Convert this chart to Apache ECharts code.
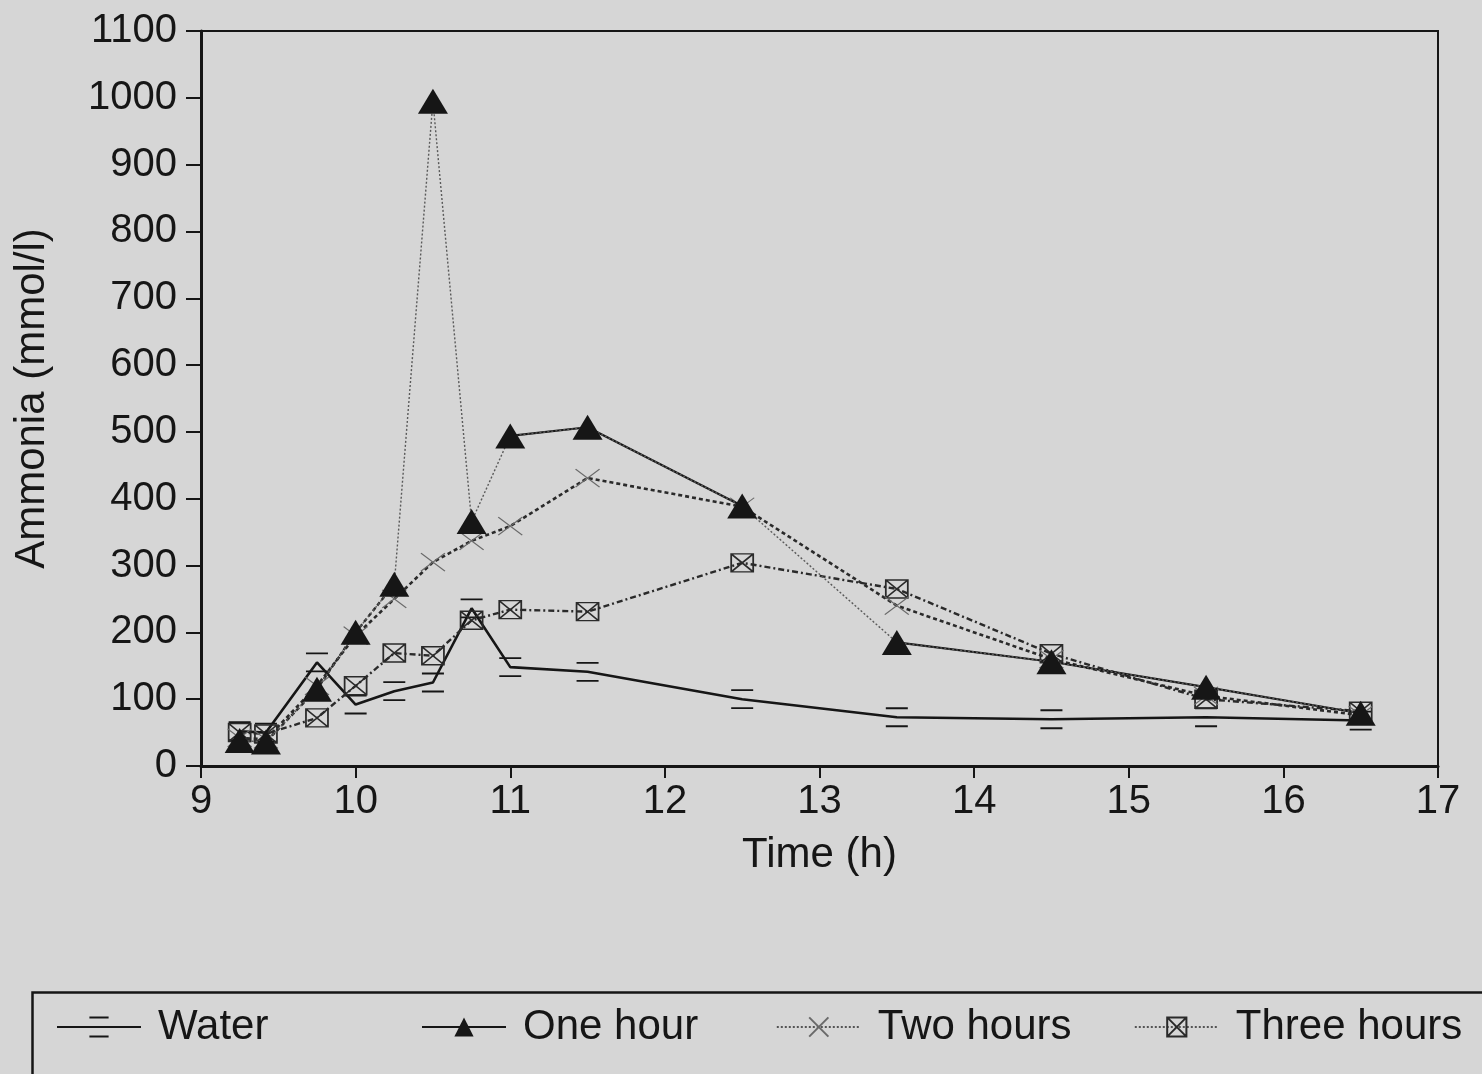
<!DOCTYPE html>
<html>
<head>
<meta charset="utf-8">
<title>Ammonia over time</title>
<script src="https://cdn.jsdelivr.net/npm/echarts@6/dist/echarts.min.js"></script>
<style>
  html, body { margin: 0; padding: 0; background: #d6d6d6; }
  #chart { width: 1482px; height: 1074px; }
</style>
</head>
<body>
<div id="chart"></div>
<script>
// Sampling times (h) and ammonia readings (mmol/l) per group
const times      = [9.25, 9.42, 9.75, 10, 10.25, 10.5, 10.75, 11, 11.5, 12.5, 13.5, 14.5, 15.5, 16.5];
const water      = [52, 50, 155, 92, 112, 125, 236, 148, 141, 100, 73, 70, 73, 68];
const oneHour    = [38, 36, 115, 200, 272, 995, 366, 494, 507, 389, 185, 156, 118, 79];
const twoHours   = [42, 40, 120, 195, 250, 305, 337, 359, 431, 388, 240, 160, 105, 76];
const threeHours = [50, 48, 72, 120, 169, 165, 218, 234, 231, 304, 265, 168, 100, 82];

const seriesNames = ['Water', 'One hour', 'Two hours', 'Three hours'];
const xTicks = [9, 10, 11, 12, 13, 14, 15, 16, 17];
const yTicks = [0, 100, 200, 300, 400, 500, 600, 700, 800, 900, 1000, 1100];

// Stretches of the "One hour" trace that the plotter drew as heavy strokes
const oneHourSolidRuns  = [[7, 9], [10, 13]];
const oneHourDashedRuns = [[0, 4]];

const FONT = "'Liberation Sans', Arial, Helvetica, sans-serif";
const INK = '#161616';

const pairs = ys => times.map((t, i) => [t, ys[i]]);
const run = (ys, a, b) => times.slice(a, b + 1).map((t, k) => [t, ys[a + k]]);

// Marker outlines
const SYM_CAPS   = 'path://M0,0H20M0,18H20';
const SYM_CROSS  = 'path://M0,0L24,18M24,0L0,18';
const SYM_HGLASS = 'path://M0,0H22V18H0ZM0,0L22,18M22,0L0,18';

const series = [
  {
    name: 'Water', type: 'line', data: pairs(water),
    symbol: SYM_CAPS, symbolSize: [22, 18],
    itemStyle: { color: 'rgba(0,0,0,0)', borderColor: INK, borderWidth: 2 },
    lineStyle: { color: INK, width: 2.6, type: 'solid' },
    z: 3
  },
  {
    name: 'Three hours', type: 'line', data: pairs(threeHours),
    symbol: SYM_HGLASS, symbolSize: [22, 18],
    itemStyle: { color: 'rgba(0,0,0,0)', borderColor: '#2a2a2a', borderWidth: 1.6 },
    lineStyle: { color: '#2a2a2a', width: 2.4, type: [6, 3, 2, 3] },
    z: 4
  },
  {
    name: 'Two hours', type: 'line', data: pairs(twoHours),
    symbol: SYM_CROSS, symbolSize: [24, 18],
    itemStyle: { color: 'rgba(0,0,0,0)', borderColor: '#6a6a6a', borderWidth: 1.2 },
    lineStyle: { color: '#2a2a2a', width: 2.6, type: [4, 3] },
    z: 5
  }
];

oneHourDashedRuns.forEach(([a, b]) => series.push({
  type: 'line', data: run(oneHour, a, b), symbol: 'none', silent: true,
  lineStyle: { color: '#2a2a2a', width: 2.4, type: [4, 3] }, z: 6
}));
oneHourSolidRuns.forEach(([a, b]) => series.push({
  type: 'line', data: run(oneHour, a, b), symbol: 'none', silent: true,
  lineStyle: { color: INK, width: 2.2, type: 'solid' }, z: 6
}));
series.push({
  name: 'One hour', type: 'line', data: pairs(oneHour),
  symbol: 'triangle', symbolSize: [30, 25],
  itemStyle: { color: INK, borderWidth: 0 },
  lineStyle: { color: '#5a5a5a', width: 1.4, type: [2, 2] },
  z: 7
});

const legendLeft = [51, 416, 771, 1129];
const legends = seriesNames.map((n, i) => {
  const lg = {
    data: [n], left: legendLeft[i], top: 1001, orient: 'horizontal',
    itemWidth: 84, itemHeight: 24, selectedMode: false,
    textStyle: { fontFamily: FONT, fontSize: 42, color: INK, padding: [0, 0, 0, 12] }
  };
  if (n === 'One hour') lg.lineStyle = { type: 'solid', width: 2, color: INK };
  if (n === 'Two hours') lg.lineStyle = { type: [2, 2], width: 1.6, color: '#2a2a2a' };
  if (n === 'Three hours') lg.lineStyle = { type: [2, 2], width: 1.6, color: '#2a2a2a' };
  return lg;
});

const chart = echarts.init(document.getElementById('chart'), null, { renderer: 'canvas' });
chart.setOption({
  animation: false,
  backgroundColor: 'transparent',
  textStyle: { fontFamily: FONT, color: INK },
  grid: { left: 201, right: 44, top: 31, bottom: 308, show: true, borderColor: INK, borderWidth: 2, backgroundColor: 'transparent' },
  xAxis: {
    type: 'value', min: xTicks[0], max: xTicks[xTicks.length - 1], interval: xTicks[1] - xTicks[0],
    name: 'Time (h)', nameLocation: 'middle', nameGap: 68,
    nameTextStyle: { fontFamily: FONT, fontSize: 42, color: INK },
    axisLine: { lineStyle: { color: INK, width: 3 } },
    axisTick: { inside: false, length: 12, lineStyle: { color: INK, width: 2 } },
    axisLabel: { fontFamily: FONT, fontSize: 40, color: INK, margin: 16, formatter: v => String(v) },
    splitLine: { show: false }
  },
  yAxis: {
    type: 'value', min: yTicks[0], max: yTicks[yTicks.length - 1], interval: yTicks[1] - yTicks[0],
    name: 'Ammonia (mmol/l)', nameLocation: 'middle', nameGap: 148, nameRotate: 90,
    nameTextStyle: { fontFamily: FONT, fontSize: 42, color: INK },
    axisLine: { show: true, lineStyle: { color: INK, width: 3 } },
    axisTick: { show: true, inside: false, length: 15, lineStyle: { color: INK, width: 2 } },
    axisLabel: { fontFamily: FONT, fontSize: 40, color: INK, margin: 24, formatter: v => String(v) },
    splitLine: { show: false }
  },
  legend: legends,
  graphic: [{
    type: 'rect', left: 30, top: 990, silent: true,
    shape: { width: 1500, height: 140 },
    style: { fill: 'none', stroke: INK, lineWidth: 2.5 }
  }],
  series: series
});
</script>
</body>
</html>
